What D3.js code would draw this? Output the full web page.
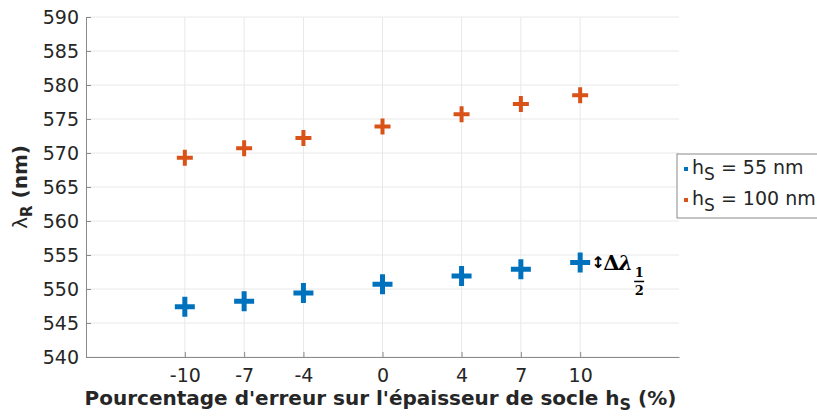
<!DOCTYPE html>
<html>
<head>
<meta charset="utf-8">
<script src="https://cdn.jsdelivr.net/npm/d3@7"></script>
<style>
  html, body { margin: 0; padding: 0; background: #fff; }
  svg { display: block; font-family: "DejaVu Sans", sans-serif; }
</style>
</head>
<body>
<svg id="chart" width="817" height="417"></svg>
<script>
// Socle thickness error (%) and resonance wavelength (nm) for two socle heights
const errorPercent = [-10, -7, -4, 0, 4, 7, 10];
const lambda55 = [547.4, 548.2, 549.4, 550.7, 551.9, 552.9, 553.9];
const lambda100 = [569.3, 570.7, 572.2, 573.9, 575.7, 577.2, 578.5];
const yTicks = [540, 545, 550, 555, 560, 565, 570, 575, 580, 585, 590];
const seriesNames = ["55 nm", "100 nm"];

const svg = d3.select("#chart");
const margin = { left: 86, right: 138, top: 17, bottom: 60 };
const W = 817, H = 417;

const x = d3.scaleLinear().domain([-15, 15]).range([margin.left, W - margin.right]);
const y = d3.scaleLinear().domain([540, 590]).range([H - margin.bottom, margin.top]);

const gridColor = "#e8e8e8";
const axisColor = "#8a8a8a";
const textColor = "#262626";

// grid
svg.append("g").selectAll("line.vg").data(errorPercent).join("line")
  .attr("x1", d => x(d)).attr("x2", d => x(d))
  .attr("y1", y.range()[0]).attr("y2", y.range()[1])
  .attr("stroke", gridColor).attr("stroke-width", 1);
svg.append("g").selectAll("line.hg").data(yTicks).join("line")
  .attr("x1", x.range()[0]).attr("x2", x.range()[1])
  .attr("y1", d => y(d)).attr("y2", d => y(d))
  .attr("stroke", gridColor).attr("stroke-width", 1);

// axes with inward ticks
const xAxis = svg.append("g")
  .attr("transform", `translate(0,${y.range()[0]})`)
  .call(d3.axisBottom(x).tickValues(errorPercent).tickFormat(d => String(d))
    .tickSizeInner(-5).tickSizeOuter(0).tickPadding(12));
const yAxis = svg.append("g")
  .attr("transform", `translate(${x.range()[0]},0)`)
  .call(d3.axisLeft(y).tickValues(yTicks).tickFormat(d => String(d))
    .tickSizeInner(-5).tickSizeOuter(0).tickPadding(7));

[xAxis, yAxis].forEach(g => {
  g.select(".domain").attr("stroke", axisColor);
  g.selectAll(".tick line").attr("stroke", axisColor);
  g.selectAll(".tick text").attr("fill", textColor)
    .style("font-size", "19px").style("font-family", "DejaVu Sans, sans-serif");
});

// plus markers
function plusPath(len, th) {
  const a = len / 2, b = th / 2;
  return `M${-a},${-b}H${-b}V${-a}H${b}V${-b}H${a}V${b}H${b}V${a}H${-b}V${b}H${-a}Z`;
}
const series = [
  { values: lambda55, color: "#0072BD", len: 20, th: 5 },
  { values: lambda100, color: "#D95319", len: 16, th: 4 }
];
series.forEach(s => {
  svg.append("g").selectAll("path").data(errorPercent).join("path")
    .attr("d", plusPath(s.len, s.th))
    .attr("transform", (d, i) => `translate(${x(d)},${y(s.values[i])})`)
    .attr("fill", s.color);
});

// annotation next to the last point of the lower series
const ann = svg.append("g")
  .attr("transform", `translate(${x(errorPercent[6]) + 11},${y(lambda55[6])})`)
  .style("font-family", "DejaVu Serif, serif").style("font-weight", "bold").attr("fill", "#000");
ann.append("text").attr("x", 0).attr("y", 6).style("font-size", "16px")
  .style("font-family", "DejaVu Sans, sans-serif").text("\u2195");
ann.append("text").attr("x", 12).attr("y", 8).style("font-size", "21px").text("\u0394");
ann.append("text").attr("x", 27).attr("y", 8).style("font-size", "21px")
  .style("font-style", "italic").text("\u03BB");
ann.append("text").attr("x", 48).attr("y", 15).style("font-size", "13px")
  .attr("text-anchor", "middle").text("1");
ann.append("line").attr("x1", 43).attr("x2", 53).attr("y1", 19).attr("y2", 19)
  .attr("stroke", "#000").attr("stroke-width", 1.5);
ann.append("text").attr("x", 48).attr("y", 33).style("font-size", "13px")
  .attr("text-anchor", "middle").text("2");

// axis titles
const xt = svg.append("text")
  .attr("x", (x.range()[0] + x.range()[1]) / 2 - 2).attr("y", 405)
  .attr("text-anchor", "middle").attr("fill", textColor)
  .style("font-size", "20px").style("font-weight", "bold");
xt.append("tspan").text("Pourcentage d'erreur sur l'épaisseur de socle h");
xt.append("tspan").attr("dy", 5).style("font-size", "16px").text("S");
xt.append("tspan").attr("dy", -5).text(" (%)");

const yt = svg.append("text")
  .attr("transform", `translate(27,${(y.range()[0] + y.range()[1]) / 2}) rotate(-90)`)
  .attr("text-anchor", "middle").attr("fill", textColor)
  .style("font-size", "20px");
yt.append("tspan").text("\u03BB");
yt.append("tspan").attr("dy", 5).style("font-size", "15px").style("font-weight", "bold").text("R");
yt.append("tspan").attr("dy", -5).style("font-weight", "bold").text(" (nm)");

// legend
const legend = svg.append("g").attr("transform", "translate(677,154)");
legend.append("rect").attr("x", 0).attr("y", 0).attr("width", 160).attr("height", 64)
  .attr("fill", "#fff").attr("stroke", axisColor).attr("stroke-width", 1);
series.forEach((s, i) => {
  const cy = 15 + i * 31;
  legend.append("rect").attr("x", 7).attr("y", cy - 2).attr("width", 4).attr("height", 4)
    .attr("fill", s.color);
  const t = legend.append("text").attr("x", 15).attr("y", cy + 5)
    .attr("fill", textColor).style("font-size", "19px");
  t.append("tspan").text("h");
  t.append("tspan").attr("dy", 6).style("font-size", "17px").text("S");
  t.append("tspan").attr("dy", -6).text(" = " + seriesNames[i]);
});
</script>
</body>
</html>
